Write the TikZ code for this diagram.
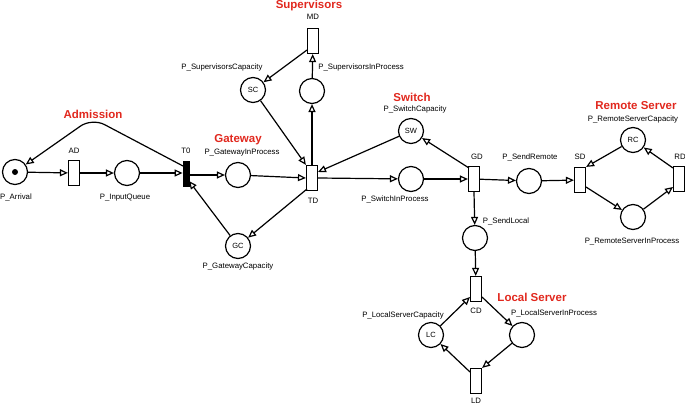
\documentclass[tikz,border=0pt]{standalone}
\usepackage{fontspec}
\setmainfont{Liberation Sans}
\usetikzlibrary{arrows.meta}
\definecolor{lblred}{RGB}{225,40,30}
\begin{document}
\begin{tikzpicture}[x=1pt,y=-1pt,
 place/.style={circle,draw,line width=1.2pt,minimum size=25pt,inner sep=0pt,font=\fontsize{7.5}{8}\selectfont},
 trans/.style={rectangle,draw,line width=1.2pt,minimum width=11pt,minimum height=25pt,inner sep=0pt},
 blackbar/.style={rectangle,draw,fill=black,line width=0.8pt,minimum width=6pt,minimum height=25pt,inner sep=0pt},
 arc/.style={line width=1.2pt,-{Triangle[open,length=8pt,width=7pt]}},
 lbl/.style={font=\fontsize{7.8}{9}\selectfont,inner sep=0pt},
 ttl/.style={font=\fontsize{11.5}{13}\selectfont\bfseries,text=lblred,inner sep=0pt}]
\useasboundingbox (0,0) rectangle (685,404);

% places
\node[place] (Arr) at (15,172) {};
\fill (Arr.center) circle (3pt);
\node[place] (IQ) at (127,173) {};
\node[place] (GIP) at (238,175) {};
\node[place] (GC) at (238,246) {GC};
\node[place] (SC) at (253,90) {SC};
\node[place] (SIP) at (312,91) {};
\node[place] (SW) at (411,131) {SW};
\node[place] (SwIP) at (411,179) {};
\node[place] (SR) at (529,181) {};
\node[place] (RC) at (633,140) {RC};
\node[place] (RIP) at (633,217) {};
\node[place] (SL) at (475,238) {};
\node[place] (LC) at (431,335) {LC};
\node[place] (LIP) at (522,335) {};

% transitions
\node[trans] (AD) at (74,173) {};
\node[blackbar] (T0) at (186,174) {};
\node[trans] (TD) at (312,178) {};
\node[trans] (MD) at (313,41) {};
\node[trans] (GD) at (474,179) {};
\node[trans] (SD) at (580,180) {};
\node[trans] (RD) at (679,179) {};
\node[trans] (CD) at (476,289) {};
\node[trans] (LD) at (476,381) {};

% arcs
\draw[arc] (Arr) -- (AD);
\draw[arc] (AD) -- (IQ);
\draw[arc] (IQ) -- (IQ -| T0.west);
\coordinate (adm) at (92,118);
\coordinate (t0s) at (183,166);
\draw[arc,rounded corners=14pt] (t0s) -- (adm) -- (Arr);
\draw[arc] (T0.east |- GIP) -- (GIP);
\coordinate (t0b) at (189,181);
\draw[arc] (GC) -- (t0b);
\draw[arc] (GIP) -- (TD.west);
\coordinate (tdbl) at (307,189);
\draw[arc] (tdbl) -- (GC);
\draw[arc] (SC) -- (TD.north west);
\draw[arc] (TD.north) -- (SIP);
\draw[arc] (SIP) -- (MD);
\coordinate (mdl) at (307,50);
\draw[arc] (mdl) -- (SC);
\coordinate (tdr) at (318,172);
\draw[arc] (SW) -- (tdr);
\draw[arc] (TD.east) -- (SwIP);
\draw[arc] (SwIP) -- (GD);
\coordinate (gdtl) at (469,168);
\draw[arc] (gdtl) -- (SW);
\draw[arc] (GD) -- (SR);
\draw[arc] (GD.south) -- (SL);
\draw[arc] (SR) -- (SD);
\draw[arc] (RC) -- (SD.north east);
\coordinate (sdbr) at (586,187);
\draw[arc] (sdbr) -- (RIP);
\coordinate (rdbl) at (673,187);
\draw[arc] (RIP) -- (rdbl);
\coordinate (rdtl) at (673,168);
\draw[arc] (rdtl) -- (RC);
\draw[arc] (SL) -- (CD);
\coordinate (cdbl) at (470,297);
\draw[arc] (LC) -- (cdbl);
\coordinate (cdbr) at (482,297);
\draw[arc] (cdbr) -- (LIP);
\draw[arc] (LIP) -- (LD.north east);
\coordinate (ldtl) at (470,372);
\draw[arc] (ldtl) -- (LC);

% labels
\node[lbl] (lArr) at (16,197) {P\_Arrival};
\node[lbl] (lAD) at (74,151) {AD};
\node[lbl] (lIQ) at (125,198) {P\_InputQueue};
\node[lbl] (lT0) at (186,151) {T0};
\node[lbl] (lGIP) at (242,153) {P\_GatewayInProcess};
\node[lbl] (lTD) at (313,201) {TD};
\node[lbl] (lGC) at (238,266) {P\_GatewayCapacity};
\node[lbl] (lMD) at (313,17) {MD};
\node[lbl] (lSC) at (222,67) {P\_SupervisorsCapacity};
\node[lbl] (lSIP) at (361,67) {P\_SupervisorsInProcess};
\node[lbl] (lSW) at (415,109) {P\_SwitchCapacity};
\node[lbl] (lSwIP) at (395,199) {P\_SwitchInProcess};
\node[lbl] (lGD) at (477,157) {GD};
\node[lbl] (lSR) at (530,157) {P\_SendRemote};
\node[lbl] (lSD) at (580,157) {SD};
\node[lbl] (lRD) at (680,157) {RD};
\node[lbl] (lRC) at (633,119) {P\_RemoteServerCapacity};
\node[lbl] (lRIP) at (632,242) {P\_RemoteServerInProcess};
\node[lbl] (lSL) at (506,221) {P\_SendLocal};
\node[lbl] (lCD) at (476,311) {CD};
\node[lbl] (lLC) at (403,315) {P\_LocalServerCapacity};
\node[lbl] (lLIP) at (554,313) {P\_LocalServerInProcess};
\node[lbl] (lLD) at (476,401) {LD};

% titles
\node[ttl] (tAdm) at (93,114) {Admission};
\node[ttl] (tGw) at (238,140) {Gateway};
\node[ttl] (tSup) at (309,6) {Supervisors};
\node[ttl] (tSw) at (412,97) {Switch};
\node[ttl] (tRS) at (636,106) {Remote Server};
\node[ttl] (tLS) at (532,297) {Local Server};
\end{tikzpicture}
\end{document}
